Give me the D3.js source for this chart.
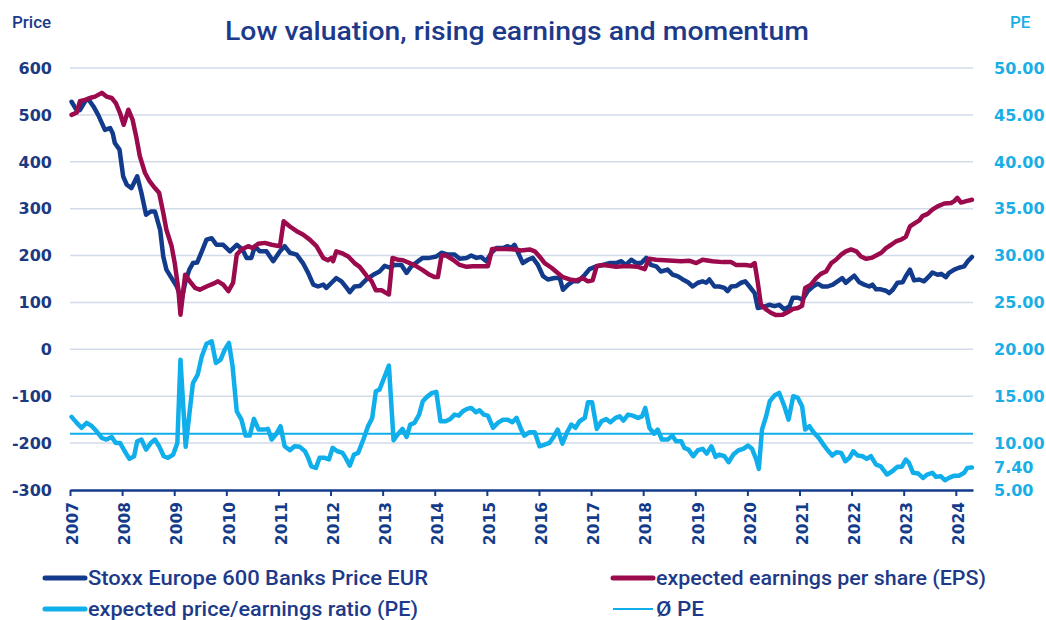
<!DOCTYPE html>
<html>
<head>
<meta charset="utf-8">
<script src="https://cdnjs.cloudflare.com/ajax/libs/d3/7.8.5/d3.min.js"></script>
<style>
body { margin: 0; background: #fff; }
</style>
</head>
<body>
<script>

// values (dates as decimal years)
var priceDates = [2007.03,2007.12,2007.19,2007.29,2007.35,2007.45,2007.54,2007.61,2007.67,2007.77,2007.82,2007.86,2007.95,
  2008.02,2008.09,2008.18,2008.29,2008.37,2008.46,2008.55,2008.63,2008.73,2008.79,2008.85,2008.95,
  2009.05,2009.14,2009.21,2009.29,2009.36,2009.44,2009.53,2009.62,2009.72,2009.81,2009.94,
  2010.07,2010.20,2010.31,2010.39,2010.48,2010.55,2010.64,2010.77,2010.90,
  2011.03,2011.12,2011.22,2011.35,2011.47,2011.57,2011.67,2011.76,2011.86,2011.92,
  2012.02,2012.11,2012.21,2012.31,2012.37,2012.46,2012.56,2012.69,2012.82,2012.94,
  2013.04,2013.14,2013.23,2013.36,2013.46,2013.55,2013.68,2013.77,2013.90,
  2014.03,2014.13,2014.25,2014.38,2014.48,2014.61,2014.70,2014.80,2014.89,2014.99,
  2015.09,2015.18,2015.31,2015.40,2015.47,2015.53,2015.60,2015.69,2015.79,2015.88,2015.98,
  2016.08,2016.17,2016.30,2016.40,2016.46,2016.56,2016.65,2016.75,2016.88,2016.97,
  2017.10,2017.23,2017.35,2017.48,2017.58,2017.67,2017.77,2017.87,2017.96,
  2018.06,2018.15,2018.25,2018.34,2018.47,2018.57,2018.66,2018.76,2018.86,2018.95,
  2019.05,2019.14,2019.21,2019.27,2019.37,2019.46,2019.56,2019.62,2019.69,2019.78,2019.88,2019.96,
  2020.04,2020.14,2020.20,2020.29,2020.42,2020.52,2020.61,2020.71,2020.81,2020.87,2020.97,
  2021.06,2021.16,2021.25,2021.35,2021.44,2021.54,2021.64,2021.73,2021.82,2021.89,2021.96,
  2022.05,2022.15,2022.24,2022.34,2022.40,2022.47,2022.56,2022.66,2022.72,2022.79,2022.88,2022.98,
  2023.04,2023.12,2023.20,2023.30,2023.39,2023.49,2023.55,2023.65,2023.72,2023.81,2023.87,2023.97,
  2024.06,2024.16,2024.23,2024.31];
var priceValues = [528,511,510,529,534,518,500,483,468,472,461,440,426,
  369,351,344,369,334,287,294,294,255,198,170,152,
  134,105,142,170,184,185,209,234,237,223,223,
  209,223,213,195,195,220,209,209,188,
  209,220,206,202,184,163,138,134,138,131,
  142,152,145,131,122,134,135,149,159,166,
  178,174,180,180,163,177,188,195,195,
  198,206,202,202,193,195,200,195,197,188,
  206,216,216,220,216,223,206,184,191,195,180,
  156,149,152,152,127,138,145,145,159,171,
  177,180,184,184,188,180,191,184,184,
  195,180,177,166,170,159,156,149,143,134,
  142,145,142,149,134,134,131,124,134,135,142,145,
  134,120,88,90,95,92,95,85,92,110,110,
  106,124,133,140,134,134,138,145,152,142,149,
  157,143,138,134,138,128,128,125,120,127,142,143,
  156,170,147,149,145,156,164,159,161,154,163,170,
  174,177,188,197];

var epsDates = [2007.03,2007.13,2007.19,2007.29,2007.38,2007.48,2007.61,2007.70,2007.80,2007.88,2007.96,
  2008.03,2008.12,2008.20,2008.27,2008.34,2008.44,2008.53,2008.63,2008.71,2008.79,2008.85,2008.95,
  2009.01,2009.08,2009.12,2009.21,2009.30,2009.40,2009.49,2009.62,2009.75,2009.84,2009.94,
  2010.04,2010.13,2010.20,2010.29,2010.42,2010.51,2010.61,2010.74,2010.87,
  2011.03,2011.10,2011.22,2011.35,2011.47,2011.60,2011.73,2011.86,2011.95,
  2012.02,2012.05,2012.11,2012.24,2012.34,2012.46,2012.56,2012.69,2012.79,2012.87,2012.98,
  2013.07,2013.12,2013.19,2013.30,2013.39,2013.52,2013.65,2013.77,2013.90,
  2014.00,2014.06,2014.13,2014.22,2014.35,2014.48,2014.61,2014.73,2014.86,
  2015.02,2015.10,2015.21,2015.37,2015.53,2015.66,2015.82,2015.92,
  2016.01,2016.11,2016.24,2016.36,2016.46,2016.59,2016.72,2016.84,2016.94,
  2017.03,2017.11,2017.23,2017.35,2017.48,2017.61,2017.74,2017.90,
  2018.03,2018.11,2018.25,2018.41,2018.57,2018.73,2018.88,
  2019.02,2019.14,2019.33,2019.53,2019.69,2019.78,2019.97,
  2020.07,2020.14,2020.20,2020.26,2020.36,2020.45,2020.55,2020.68,2020.77,2020.87,2020.97,
  2021.05,2021.11,2021.22,2021.32,2021.41,2021.51,2021.61,2021.70,2021.80,2021.89,2021.99,
  2022.09,2022.18,2022.28,2022.38,2022.47,2022.57,2022.66,2022.76,2022.85,2022.95,
  2023.04,2023.12,2023.20,2023.30,2023.36,2023.46,2023.55,2023.65,2023.78,2023.91,2023.97,
  2024.03,2024.10,2024.20,2024.31];
var epsValues = [500,505,529,532,536,539,547,539,536,525,504,
  479,511,490,454,412,376,358,344,334,291,255,220,
  184,127,74,159,145,131,127,134,140,145,138,
  124,142,202,213,220,216,225,227,223,
  220,273,262,252,245,234,220,195,190,
  195,188,209,204,198,184,176,157,145,126,126,
  120,117,195,191,190,184,177,169,159,
  154,154,200,200,191,180,176,177,177,
  177,214,214,214,213,211,213,209,
  198,184,174,163,154,149,147,152,145,
  147,178,180,178,176,177,177,176,
  171,193,191,190,189,188,189,
  184,191,188,186,186,180,180,
  178,184,142,95,85,78,73,74,79,86,88,
  93,131,138,152,161,166,184,191,202,209,213,
  209,198,193,195,200,206,216,223,230,234,
  240,262,268,275,284,289,298,305,311,312,316,
  323,313,316,319];

var peDates = [2007.03,2007.13,2007.22,2007.32,2007.42,2007.51,2007.61,2007.70,2007.80,2007.88,2007.96,
  2008.05,2008.14,2008.23,2008.29,2008.37,2008.46,2008.55,2008.63,2008.71,2008.80,2008.88,2008.98,
  2009.06,2009.12,2009.22,2009.30,2009.36,2009.45,2009.53,2009.62,2009.72,2009.80,2009.89,2009.97,
  2010.05,2010.12,2010.20,2010.29,2010.37,2010.45,2010.53,2010.62,2010.72,2010.80,2010.87,2010.95,
  2011.04,2011.12,2011.22,2011.31,2011.41,2011.51,2011.57,2011.63,2011.72,2011.79,2011.89,2011.97,
  2012.04,2012.13,2012.23,2012.29,2012.37,2012.45,2012.53,2012.63,2012.72,2012.80,2012.87,2012.94,
  2013.04,2013.12,2013.21,2013.30,2013.38,2013.46,2013.53,2013.61,2013.70,2013.77,2013.85,2013.95,
  2014.03,2014.11,2014.21,2014.30,2014.38,2014.46,2014.54,2014.62,2014.70,2014.79,2014.86,2014.94,
  2015.02,2015.12,2015.21,2015.31,2015.40,2015.49,2015.57,2015.66,2015.72,2015.82,2015.92,
  2016.01,2016.11,2016.20,2016.28,2016.36,2016.45,2016.54,2016.62,2016.70,2016.78,2016.88,2016.94,
  2017.02,2017.11,2017.20,2017.29,2017.37,2017.47,2017.55,2017.62,2017.71,2017.80,2017.90,2017.98,
  2018.04,2018.12,2018.21,2018.28,2018.36,2018.47,2018.56,2018.63,2018.73,2018.79,2018.87,2018.96,
  2019.05,2019.14,2019.22,2019.31,2019.39,2019.46,2019.56,2019.64,2019.73,2019.83,2019.92,
  2020.01,2020.09,2020.17,2020.22,2020.28,2020.36,2020.43,2020.52,2020.61,2020.71,2020.79,2020.88,2020.97,
  2021.05,2021.11,2021.19,2021.27,2021.37,2021.46,2021.54,2021.63,2021.71,2021.80,2021.88,2021.96,
  2022.03,2022.12,2022.21,2022.29,2022.37,2022.47,2022.56,2022.68,2022.78,2022.88,2022.96,
  2023.04,2023.10,2023.18,2023.28,2023.37,2023.45,2023.55,2023.62,2023.71,2023.79,2023.87,2023.97,
  2024.06,2024.16,2024.22,2024.31];
var peValues = [12.8,12.16,11.63,12.16,11.8,11.26,10.56,10.38,10.66,10.02,10.02,
  9.13,8.32,8.6,10.2,10.38,9.31,10.02,10.38,9.66,8.6,8.43,8.78,
  10.02,18.9,9.6,13.57,16.4,17.3,19.26,20.6,20.85,18.55,18.9,19.97,
  20.68,18.2,13.4,12.5,10.8,10.8,12.58,11.44,11.44,11.52,10.38,10.91,
  11.8,9.66,9.24,9.66,9.6,9.13,8.43,7.53,7.36,8.43,8.43,8.25,
  9.49,9.13,8.96,8.43,7.6,8.78,8.96,10.38,11.8,12.69,15.53,15.7,
  17.13,18.27,10.3,11.0,11.52,10.66,11.98,12.16,13.04,14.46,14.93,15.36,
  15.46,12.33,12.33,12.58,13.04,12.93,13.4,13.65,13.75,13.29,13.5,13.04,
  12.93,11.63,12.16,12.5,12.5,12.22,12.69,11.44,10.8,11.16,11.16,
  9.66,9.84,10.02,10.66,11.44,9.95,11.16,11.98,11.63,12.33,12.69,14.35,
  14.35,11.52,12.33,12.58,12.22,12.69,12.86,12.4,13.04,12.93,12.69,12.86,
  13.75,11.63,11.0,11.44,10.38,10.38,10.8,10.2,10.2,9.49,9.31,8.6,
  9.24,9.39,8.88,9.66,8.53,8.78,8.6,7.96,8.78,9.24,9.39,
  9.74,9.39,8.25,7.25,11.44,12.86,14.46,15.07,15.36,13.93,12.5,15.0,14.82,
  13.93,11.44,11.8,11.16,10.56,9.84,9.24,8.67,9.02,8.96,8.07,8.43,
  9.13,8.67,8.6,8.32,8.6,7.71,7.53,6.65,7.0,7.47,7.47,
  8.25,7.89,6.83,6.75,6.29,6.65,6.83,6.4,6.47,6.04,6.29,6.53,
  6.53,6.83,7.36,7.4];

var avgPE = 11.0;
var lastPE = 7.40;

var years = d3.range(2007, 2025);
var priceTicks = [600, 500, 400, 300, 200, 100, 0, -100, -200, -300];
var peTicks = [50, 45, 40, 35, 30, 25, 20, 15, 10, 5];

var navy = '#133b8b', wine = '#9b0a4d', sky = '#10aeea', grid = '#d3dbea';

var margin = {top: 68, right: 73, bottom: 130, left: 70},
    width = 1046 - margin.left - margin.right,
    height = 620 - margin.top - margin.bottom;

var svg = d3.select('body')
  .append('svg')
  .attr('width', 1046)
  .attr('height', 620);

var chart = svg.append('g')
  .attr('transform', 'translate(' + margin.left + ',' + margin.top + ')');

var x = d3.scaleLinear().domain([2007, 2024.33]).range([0, width]);
var yL = d3.scaleLinear().domain([-300, 600]).range([height, 0]);
var yR = d3.scaleLinear().domain([5, 50]).range([height, 0]);

// horizontal grid
chart.selectAll('.grid')
  .data(priceTicks.filter(function(d) { return d > -300; }))
  .enter()
  .append('line')
  .attr('x1', 0).attr('x2', width)
  .attr('y1', function(d) { return yL(d); })
  .attr('y2', function(d) { return yL(d); })
  .attr('stroke', grid)
  .attr('stroke-width', 1.5);

// left labels
chart.selectAll('.lt')
  .data(priceTicks)
  .enter()
  .append('text')
  .attr('x', -18)
  .attr('y', function(d) { return yL(d); })
  .attr('dy', '0.36em')
  .attr('text-anchor', 'end')
  .attr('font-family', 'DejaVu Sans')
  .attr('font-weight', 'bold')
  .attr('font-size', '16px')
  .attr('fill', '#1b3a82')
  .text(function(d) { return d; });

// right labels (plus the latest PE)
chart.selectAll('.rt')
  .data(peTicks.concat([lastPE]))
  .enter()
  .append('text')
  .attr('x', width + 21)
  .attr('y', function(d) { return yR(d); })
  .attr('dy', '0.36em')
  .attr('text-anchor', 'start')
  .attr('font-family', 'DejaVu Sans')
  .attr('font-weight', 'bold')
  .attr('font-size', '16px')
  .attr('fill', '#1aaee6')
  .text(function(d) { return d3.format('.2f')(d); });

// x axis
var xAxis = chart.append('g')
  .attr('transform', 'translate(0,' + height + ')')
  .call(d3.axisBottom(x).tickValues(years).tickSize(6).tickSizeOuter(0).tickFormat(d3.format('d')));
xAxis.select('.domain').attr('stroke', navy).attr('stroke-width', 2.5);
xAxis.selectAll('.tick line').attr('stroke', navy).attr('stroke-width', 2);
xAxis.selectAll('.tick text')
  .attr('transform', 'rotate(-90)')
  .attr('text-anchor', 'end')
  .attr('x', -12)
  .attr('y', 0)
  .attr('dy', '0.5em')
  .attr('font-family', 'DejaVu Sans')
  .attr('font-weight', 'bold')
  .attr('font-size', '15.5px')
  .attr('fill', navy);

// average PE
chart.append('line')
  .attr('x1', 0).attr('x2', width)
  .attr('y1', yR(avgPE)).attr('y2', yR(avgPE))
  .attr('stroke', sky)
  .attr('stroke-width', 2);

function drawLine(dates, values, scale, color) {
  var line = d3.line()
    .x(function(d) { return x(d[0]); })
    .y(function(d) { return scale(d[1]); });
  chart.append('path')
    .datum(d3.zip(dates, values))
    .attr('d', line)
    .attr('fill', 'none')
    .attr('stroke', color)
    .attr('stroke-width', 4.5)
    .attr('stroke-linejoin', 'round')
    .attr('stroke-linecap', 'round');
}

drawLine(peDates, peValues, yR, sky);
drawLine(priceDates, priceValues, yL, navy);
drawLine(epsDates, epsValues, yL, wine);

// titles
svg.append('text')
  .attr('x', 517).attr('y', 40)
  .attr('text-anchor', 'middle')
  .attr('font-family', 'Roboto')
  .attr('font-weight', 500)
  .attr('font-size', '25px')
  .attr('fill', '#1d3a8a')
  .attr('textLength', 584)
  .attr('lengthAdjust', 'spacingAndGlyphs')
  .text('Low valuation, rising earnings and momentum');

svg.append('text')
  .attr('x', 12).attr('y', 28)
  .attr('font-family', 'Roboto').attr('font-weight', 500).attr('font-size', '17px')
  .attr('fill', '#1d3a8a')
  .text('Price');

svg.append('text')
  .attr('x', 1010).attr('y', 28)
  .attr('font-family', 'Roboto').attr('font-weight', 500).attr('font-size', '17px')
  .attr('fill', '#1aaee6')
  .text('PE');

// legend
var legendItems = [
  {label: 'Stoxx Europe 600 Banks Price EUR', color: navy, w: 5, x: 45, y: 578, len: 340},
  {label: 'expected earnings per share (EPS)', color: wine, w: 5, x: 613, y: 578, len: 330},
  {label: 'expected price/earnings ratio (PE)', color: sky, w: 5, x: 45, y: 609, len: 330},
  {label: 'Ø PE', color: sky, w: 2, x: 613, y: 609, len: 48}
];

var legend = svg.selectAll('.legend')
  .data(legendItems)
  .enter()
  .append('g')
  .attr('transform', function(d) { return 'translate(' + d.x + ',' + d.y + ')'; });

legend.append('line')
  .attr('x1', 0).attr('x2', 40)
  .attr('stroke', function(d) { return d.color; })
  .attr('stroke-width', function(d) { return d.w; })
  .attr('stroke-linecap', function(d) { return d.w > 2 ? 'round' : 'butt'; });

legend.append('text')
  .attr('x', 43)
  .attr('dy', '0.34em')
  .attr('font-family', 'Roboto')
  .attr('font-weight', 500)
  .attr('font-size', '20px')
  .attr('fill', '#1d3a8a')
  .attr('textLength', function(d) { return d.len; })
  .attr('lengthAdjust', 'spacingAndGlyphs')
  .text(function(d) { return d.label; });

</script>
</body>
</html>
